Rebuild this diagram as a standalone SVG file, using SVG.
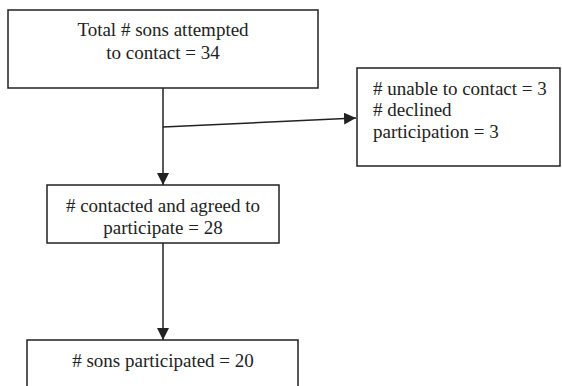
<svg xmlns="http://www.w3.org/2000/svg" width="562" height="386" viewBox="0 0 562 386">
<style>
.box{fill:#fff;stroke:#222;stroke-width:1.5}
.t{font-family:'Liberation Serif','Times New Roman',serif;font-size:19px;fill:#222}
.c{text-anchor:middle}
.ln{stroke:#222;stroke-width:1.5;fill:none}
</style>
<defs>
<marker id="arr" viewBox="0 0 12 12" refX="12" refY="6" markerWidth="12" markerHeight="12" markerUnits="userSpaceOnUse" orient="auto">
<path d="M0,0 L12,6 L0,12 z" fill="#222"/>
</marker>
</defs>
<g id="connectors">
<line class="ln" x1="163" y1="88" x2="163" y2="185" marker-end="url(#arr)"/>
<line class="ln" x1="163" y1="127" x2="356" y2="118" marker-end="url(#arr)"/>
<line class="ln" x1="163" y1="243" x2="163" y2="340" marker-end="url(#arr)"/>
</g>
<g id="n1">
<rect class="box" x="8" y="10" width="310" height="78"/>
<text class="t c" x="163" y="36">Total # sons attempted</text>
<text class="t c" x="163" y="59">to contact = 34</text>
</g>
<g id="n2">
<rect class="box" x="357" y="68" width="203" height="98"/>
<text class="t" x="373" y="95"># unable to contact = 3</text>
<text class="t" x="373" y="116"># declined</text>
<text class="t" x="373" y="138">participation = 3</text>
</g>
<g id="n3">
<rect class="box" x="47" y="185" width="232" height="58"/>
<text class="t c" x="163" y="212"># contacted and agreed to</text>
<text class="t c" x="163" y="234">participate = 28</text>
</g>
<g id="n4">
<rect class="box" x="27" y="340" width="271" height="60"/>
<text class="t c" x="163" y="367"># sons participated = 20</text>
</g>
</svg>
